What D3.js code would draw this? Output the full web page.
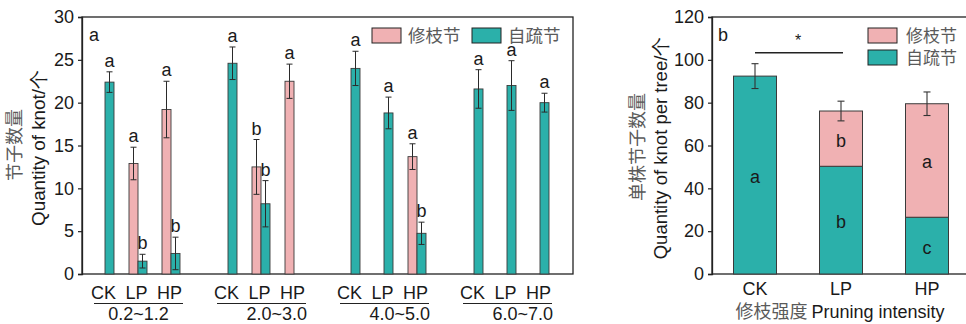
<!DOCTYPE html>
<html>
<head>
<meta charset="utf-8">
<script src="https://cdn.jsdelivr.net/npm/d3@7"></script>
<style>
  html, body { margin: 0; padding: 0; background: #fff; }
  svg { display: block; }
  text { font-family: "Liberation Sans", Arial, sans-serif; fill: #1a1a1a; }
  .cjk { font-family: "Noto Sans CJK SC", sans-serif; font-weight: 400; fill: #5a5a5a; }
</style>
</head>
<body>
<svg id="chart" width="966" height="324"></svg>
<script>
// Knot counts by branch diameter class (left) and per tree (right)
const diameterClasses = ["0.2~1.2", "2.0~3.0", "4.0~5.0", "6.0~7.0"];
const treatments = ["CK", "LP", "HP"];
const seriesNames = ["修枝节", "自疏节"];

// 修枝节 (pruning knots): one row per diameter class, columns CK / LP / HP
const prunedMean = [[0, 12.9, 19.2], [0, 12.5, 22.5], [0, 0, 13.7], [0, 0, 0]];
const prunedErr  = [[0, 1.9, 3.3],   [0, 3.2, 2.0],   [0, 0, 1.5],  [0, 0, 0]];
const prunedSig  = [["", "a", "a"],  ["", "b", "a"],  ["", "", "a"], ["", "", ""]];

// 自疏节 (self-pruning knots)
const selfMean = [[22.4, 1.5, 2.4], [24.6, 8.2, 0], [24.0, 18.8, 4.75], [21.6, 22.0, 20.0]];
const selfErr  = [[1.2, 0.8, 1.9],  [1.9, 2.7, 0],  [2.0, 1.85, 1.3],  [2.25, 2.9, 1.1]];
const selfSig  = [["a", "b", "b"],  ["a", "b", ""], ["a", "a", "b"],   ["a", "a", "a"]];

// Per-tree totals, stacked
const treeSelf      = [92.4, 50.3, 26.5];
const treePruned    = [0, 25.8, 53.0];
const treeErr       = [5.8, 4.6, 5.5];
const treeSelfSig   = ["a", "b", "c"];
const treePrunedSig = ["", "b", "a"];

const leftTicks = [0, 5, 10, 15, 20, 25, 30];
const rightTicks = [0, 20, 40, 60, 80, 100, 120];

const PINK = "#f0b1b3", TEAL = "#2bb0aa", EDGE = "#3a3a3a";
const svg = d3.select("#chart");

// ---------- Left panel ----------
const L = { x0: 82, x1: 573, y0: 17, y1: 274 };
const yL = d3.scaleLinear().domain([0, 30]).range([L.y1, L.y0]);
const xGroup = d3.scaleBand().domain(diameterClasses).range([88.5, 556.5]).paddingInner(24 / 123).paddingOuter(0);
const xTreat = d3.scaleBand().domain(treatments).range([0, xGroup.bandwidth()]).padding(0);
const barW = 9;

const left = svg.append("g");
// frame
left.append("rect").attr("x", L.x0).attr("y", L.y0).attr("width", L.x1 - L.x0).attr("height", L.y1 - L.y0)
  .attr("fill", "none").attr("stroke", "#222").attr("stroke-width", 1.3);

const yAxisL = left.append("g").attr("transform", `translate(${L.x0},0)`)
  .call(d3.axisLeft(yL).tickValues(leftTicks).tickSize(4).tickPadding(4));
yAxisL.select(".domain").attr("stroke", "#222").attr("stroke-width", 1.3);
yAxisL.selectAll(".tick line").attr("stroke", "#222").attr("stroke-width", 1.2);
yAxisL.selectAll(".tick text").style("font-size", "18px").attr("fill", "#1a1a1a").style("font-family", "Liberation Sans, Arial, sans-serif");

// flatten the grouped data into bar records
const leftBars = [];
diameterClasses.forEach((g, gi) => {
  treatments.forEach((t, ti) => {
    const cx = xGroup(g) + xTreat(t) + xTreat.bandwidth() / 2;
    leftBars.push({ cx, side: -1, v: prunedMean[gi][ti], e: prunedErr[gi][ti], sig: prunedSig[gi][ti], fill: PINK });
    leftBars.push({ cx, side: 0, v: selfMean[gi][ti], e: selfErr[gi][ti], sig: selfSig[gi][ti], fill: TEAL });
  });
});
const drawn = leftBars.filter(d => d.v > 0);

left.selectAll("rect.bar").data(drawn).join("rect")
  .attr("class", "bar")
  .attr("x", d => d.cx + d.side * barW)
  .attr("y", d => yL(d.v))
  .attr("width", barW)
  .attr("height", d => yL(0) - yL(d.v))
  .attr("fill", d => d.fill)
  .attr("stroke", EDGE).attr("stroke-width", 0.9);

const eb = left.selectAll("g.err").data(drawn).join("g").attr("class", "err")
  .attr("stroke", "#2a2a2a").attr("stroke-width", 1);
eb.append("line")
  .attr("x1", d => d.cx + d.side * barW + barW / 2).attr("x2", d => d.cx + d.side * barW + barW / 2)
  .attr("y1", d => yL(d.v + d.e)).attr("y2", d => yL(d.v - d.e));
eb.append("line")
  .attr("x1", d => d.cx + d.side * barW + barW / 2 - 3).attr("x2", d => d.cx + d.side * barW + barW / 2 + 3)
  .attr("y1", d => yL(d.v + d.e)).attr("y2", d => yL(d.v + d.e));
eb.append("line")
  .attr("x1", d => d.cx + d.side * barW + barW / 2 - 3).attr("x2", d => d.cx + d.side * barW + barW / 2 + 3)
  .attr("y1", d => yL(d.v - d.e)).attr("y2", d => yL(d.v - d.e));

left.selectAll("text.sig").data(drawn.filter(d => d.sig)).join("text")
  .attr("class", "sig")
  .attr("x", d => d.cx + d.side * barW + barW / 2)
  .attr("y", d => yL(d.v + d.e) - 5)
  .attr("text-anchor", "middle")
  .style("font-size", "18px")
  .text(d => d.sig);

// treatment labels and diameter-class brackets
diameterClasses.forEach((g, gi) => {
  const gx = xGroup(g);
  treatments.forEach(t => {
    left.append("text")
      .attr("x", gx + xTreat(t) + xTreat.bandwidth() / 2 - 1.5)
      .attr("y", 299)
      .attr("text-anchor", "middle")
      .style("font-size", "18px")
      .text(t);
  });
  const lx0 = gx + xTreat.bandwidth() / 2 - 11;
  const lx1 = gx + xTreat("HP") + xTreat.bandwidth() / 2 + 12;
  left.append("line").attr("x1", lx0).attr("x2", lx1).attr("y1", 303.5).attr("y2", 303.5)
    .attr("stroke", "#222").attr("stroke-width", 1.2);
  left.append("text")
    .attr("x", gi === 0 ? (lx0 + lx1) / 2 : lx1 + 1)
    .attr("y", 320)
    .attr("text-anchor", gi === 0 ? "middle" : "end")
    .style("font-size", "18px")
    .text(g);
});

// panel label
left.append("text").attr("x", 94).attr("y", 41).attr("text-anchor", "middle").style("font-size", "18px").text("a");

// legend
const legL = [{ name: seriesNames[0], fill: PINK, x: 372 }, { name: seriesNames[1], fill: TEAL, x: 472 }];
legL.forEach(d => {
  left.append("rect").attr("x", d.x).attr("y", 28).attr("width", 29).attr("height", 15)
    .attr("fill", d.fill).attr("stroke", "#222").attr("stroke-width", 1);
  left.append("text").attr("class", "cjk").attr("x", d.x + 36).attr("y", 41.5).style("font-size", "17.5px").text(d.name);
});

// axis titles
left.append("text").attr("class", "cjk")
  .attr("transform", "translate(13,145) rotate(-90)")
  .attr("text-anchor", "middle").attr("dominant-baseline", "central")
  .style("font-size", "18px").text("节子数量");
left.append("text")
  .attr("transform", "translate(38,148) rotate(-90)")
  .attr("text-anchor", "middle").attr("dominant-baseline", "central")
  .style("font-size", "18.8px").text("Quantity of knot/个");

// ---------- Right panel ----------
const R = { x0: 712, x1: 970, y0: 17, y1: 274 };
const yR = d3.scaleLinear().domain([0, 120]).range([R.y1, R.y0]);
const xR = d3.scaleBand().domain(treatments).range([R.x0, R.x0 + 258]).paddingInner(0.5).paddingOuter(0.25);

const right = svg.append("g");
right.append("rect").attr("x", R.x0).attr("y", R.y0).attr("width", R.x1 - R.x0).attr("height", R.y1 - R.y0)
  .attr("fill", "none").attr("stroke", "#222").attr("stroke-width", 1.3);

const yAxisR = right.append("g").attr("transform", `translate(${R.x0},0)`)
  .call(d3.axisLeft(yR).tickValues(rightTicks).tickSize(4).tickPadding(4));
yAxisR.select(".domain").attr("stroke", "#222").attr("stroke-width", 1.3);
yAxisR.selectAll(".tick line").attr("stroke", "#222").attr("stroke-width", 1.2);
yAxisR.selectAll(".tick text").style("font-size", "18px").attr("fill", "#1a1a1a").style("font-family", "Liberation Sans, Arial, sans-serif");

const xAxisR = right.append("g").attr("transform", `translate(0,${R.y1})`)
  .call(d3.axisBottom(xR).tickSize(0).tickPadding(8));
xAxisR.select(".domain").remove();
xAxisR.selectAll(".tick text").style("font-size", "18px").attr("fill", "#1a1a1a").style("font-family", "Liberation Sans, Arial, sans-serif");

const stackData = treatments.map((t, i) => ({ t, self: treeSelf[i], pruned: treePruned[i], err: treeErr[i], s1: treeSelfSig[i], s2: treePrunedSig[i] }));
const stacked = d3.stack().keys(["self", "pruned"])(stackData);
const fills = { self: TEAL, pruned: PINK };
const sigKey = { self: "s1", pruned: "s2" };

stacked.forEach(layer => {
  const segs = layer.filter(d => d[1] > d[0]);
  right.selectAll(`rect.seg-${layer.key}`).data(segs).join("rect")
    .attr("class", `seg-${layer.key}`)
    .attr("x", d => xR(d.data.t))
    .attr("y", d => yR(d[1]))
    .attr("width", xR.bandwidth())
    .attr("height", d => yR(d[0]) - yR(d[1]))
    .attr("fill", fills[layer.key])
    .attr("stroke", EDGE).attr("stroke-width", 1);
  right.selectAll(`text.lab-${layer.key}`).data(segs.filter(d => d.data[sigKey[layer.key]])).join("text")
    .attr("class", `lab-${layer.key}`)
    .attr("x", d => xR(d.data.t) + xR.bandwidth() / 2)
    .attr("y", d => (yR(d[0]) + yR(d[1])) / 2 + 8)
    .attr("text-anchor", "middle")
    .style("font-size", "18px")
    .text(d => d.data[sigKey[layer.key]]);
});

// error bars on the stack totals
const totals = stackData.map(d => ({ t: d.t, v: d.self + d.pruned, e: d.err }));
const ebR = right.selectAll("g.errR").data(totals).join("g").attr("class", "errR")
  .attr("stroke", "#333").attr("stroke-width", 1.1);
const cxR = d => xR(d.t) + xR.bandwidth() / 2;
ebR.append("line").attr("x1", cxR).attr("x2", cxR).attr("y1", d => yR(d.v + d.e)).attr("y2", d => yR(d.v - d.e));
ebR.append("line").attr("x1", d => cxR(d) - 3.5).attr("x2", d => cxR(d) + 3.5).attr("y1", d => yR(d.v + d.e)).attr("y2", d => yR(d.v + d.e));
ebR.append("line").attr("x1", d => cxR(d) - 3.5).attr("x2", d => cxR(d) + 3.5).attr("y1", d => yR(d.v - d.e)).attr("y2", d => yR(d.v - d.e));

// significance bracket CK vs LP
right.append("line")
  .attr("x1", xR("CK") + xR.bandwidth() / 2).attr("x2", xR("LP") + xR.bandwidth() / 2 + 2)
  .attr("y1", yR(103.3)).attr("y2", yR(103.3))
  .attr("stroke", "#222").attr("stroke-width", 1.4);
right.append("text")
  .attr("x", (xR("CK") + xR("LP") + xR.bandwidth()) / 2)
  .attr("y", yR(103.3) - 7)
  .attr("text-anchor", "middle").style("font-size", "16px").text("*");

right.append("text").attr("x", 723).attr("y", 41).attr("text-anchor", "middle").style("font-size", "18px").text("b");

// legend
const legR = [{ name: seriesNames[0], fill: PINK, y: 28 }, { name: seriesNames[1], fill: TEAL, y: 50 }];
legR.forEach(d => {
  right.append("rect").attr("x", 868).attr("y", d.y).attr("width", 29).attr("height", 15)
    .attr("fill", d.fill).attr("stroke", "#222").attr("stroke-width", 1);
  right.append("text").attr("class", "cjk").attr("x", 906).attr("y", d.y + 13.5).style("font-size", "17px").text(d.name);
});

// axis titles
right.append("text").attr("class", "cjk")
  .attr("transform", "translate(636,147) rotate(-90)")
  .attr("text-anchor", "middle").attr("dominant-baseline", "central")
  .style("font-size", "18px").text("单株节子数量");
right.append("text")
  .attr("transform", "translate(660,148) rotate(-90)")
  .attr("text-anchor", "middle").attr("dominant-baseline", "central")
  .style("font-size", "18.5px").text("Quantity of knot per tree/个");
right.append("text")
  .attr("x", 840).attr("y", 318)
  .attr("text-anchor", "middle")
  .style("font-size", "18px")
  .call(t => {
    t.append("tspan").attr("class", "cjk").text("修枝强度 ");
    t.append("tspan").text("Pruning intensity");
  });
</script>
</body>
</html>
